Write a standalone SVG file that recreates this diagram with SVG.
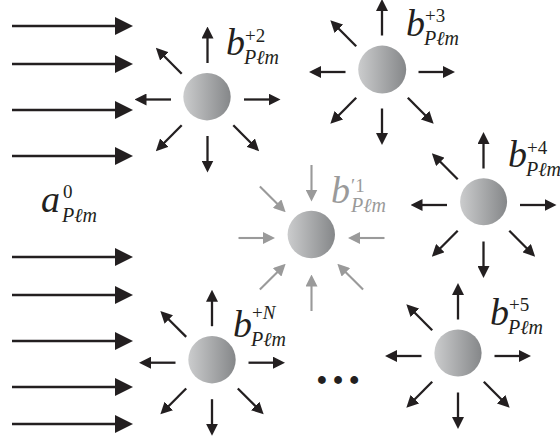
<svg xmlns="http://www.w3.org/2000/svg" xmlns:xlink="http://www.w3.org/1999/xlink" width="560" height="441" viewBox="0 0 560 441">
  <style>
    text { font-family: "Liberation Serif", "Times New Roman", "DejaVu Serif", serif; fill: #231f20; }
    .ghost { fill: #9a9a9a; }
    .big { font-size: 38px; font-style: italic; }
    .sup { font-size: 19px; font-style: normal; }
    .sub { font-size: 20px; font-style: italic; }
    .ray { stroke: #231f20; stroke-width: 2.3; fill: none; marker-end: url(#tip); }
    .ray-in { stroke: #9a9a9a; stroke-width: 2.1; fill: none; marker-end: url(#tip-in); }
    .wave { stroke: #231f20; stroke-width: 2.7; fill: none; marker-end: url(#tip-big); }
    .ball { fill: url(#shade); }
  </style>
  <defs>
    <linearGradient id="shade" x1="0" y1="0" x2="1" y2="0">
      <stop offset="0" stop-color="#cbcccd"/>
      <stop offset="1" stop-color="#858789"/>
    </linearGradient>
    <marker id="tip" markerUnits="userSpaceOnUse" markerWidth="12" markerHeight="12" refX="4" refY="6" orient="auto">
      <path d="M0,0 L12,6 L0,12 z" fill="#231f20"/>
    </marker>
    <marker id="tip-in" markerUnits="userSpaceOnUse" markerWidth="12" markerHeight="12" refX="4" refY="6" orient="auto">
      <path d="M0,0 L12,6 L0,12 z" fill="#9a9a9a"/>
    </marker>
    <marker id="tip-big" markerUnits="userSpaceOnUse" markerWidth="18" markerHeight="18" refX="4" refY="9" orient="auto">
      <path d="M0,0 L18,9 L0,18 z" fill="#231f20"/>
    </marker>
    <!-- seven outgoing rays around a scatterer (upper-right slot left free for its label) -->
    <g id="burst-out">
      <line class="ray" x1="0" y1="-36.5" x2="0" y2="-65"/>
      <line class="ray" x1="0" y1="36.5" x2="0" y2="65"/>
      <line class="ray" x1="-36.5" y1="0" x2="-65" y2="0"/>
      <line class="ray" x1="36.5" y1="0" x2="65" y2="0"/>
      <line class="ray" x1="-25.8" y1="-25.8" x2="-46" y2="-46"/>
      <line class="ray" x1="-25.8" y1="25.8" x2="-46" y2="46"/>
      <line class="ray" x1="25.8" y1="25.8" x2="46" y2="46"/>
    </g>
    <!-- seven incoming rays converging on a scatterer -->
    <g id="burst-in">
      <line class="ray-in" x1="0" y1="-73" x2="0" y2="-44.5"/>
      <line class="ray-in" x1="0" y1="73" x2="0" y2="44.5"/>
      <line class="ray-in" x1="-73" y1="0" x2="-44.5" y2="0"/>
      <line class="ray-in" x1="73" y1="0" x2="44.5" y2="0"/>
      <line class="ray-in" x1="-51.6" y1="-51.6" x2="-31.5" y2="-31.5"/>
      <line class="ray-in" x1="-51.6" y1="51.6" x2="-31.5" y2="31.5"/>
      <line class="ray-in" x1="51.6" y1="51.6" x2="31.5" y2="31.5"/>
    </g>
  </defs>

  <rect width="560" height="441" fill="#ffffff"/>

  <!-- incident plane wave and scattered rays -->
  <g id="connectors">
    <line class="wave" x1="12" y1="26" x2="119" y2="26"/>
    <line class="wave" x1="12" y1="64" x2="119" y2="64"/>
    <line class="wave" x1="12" y1="110" x2="119" y2="110"/>
    <line class="wave" x1="12" y1="156" x2="119" y2="156"/>
    <line class="wave" x1="12" y1="257" x2="119" y2="257"/>
    <line class="wave" x1="12" y1="295" x2="119" y2="295"/>
    <line class="wave" x1="12" y1="341" x2="119" y2="341"/>
    <line class="wave" x1="12" y1="387" x2="119" y2="387"/>
    <line class="wave" x1="12" y1="424" x2="119" y2="424"/>

    <use xlink:href="#burst-out" transform="translate(207.5,99.5)"/>
    <use xlink:href="#burst-out" transform="translate(382,72)"/>
    <use xlink:href="#burst-out" transform="translate(483.5,205)"/>
    <use xlink:href="#burst-out" transform="translate(212,362.7)"/>
    <use xlink:href="#burst-out" transform="translate(458,356)"/>
    <use xlink:href="#burst-in" transform="translate(311.5,238)"/>
  </g>

  <g id="incident">
    <text class="big" x="41" y="212">a</text>
    <text class="sup" x="63" y="198">0</text>
    <text class="sub" x="62" y="222">Pℓm</text>
  </g>

  <g id="scatterer-1">
    <circle class="ball" cx="311.3" cy="234.5" r="23.7"/>
    <text class="big ghost" x="331" y="203">b</text>
    <text class="sup ghost" x="351" y="192">′1</text>
    <text class="sub ghost" x="351" y="212">Pℓm</text>
  </g>

  <g id="scatterer-2">
    <circle class="ball" cx="207" cy="96.7" r="23.7"/>
    <text class="big" x="226" y="55">b</text>
    <text class="sup" x="245" y="42">+2</text>
    <text class="sub" x="244" y="64">Pℓm</text>
  </g>

  <g id="scatterer-3">
    <circle class="ball" cx="382.2" cy="69.6" r="24"/>
    <text class="big" x="406" y="36">b</text>
    <text class="sup" x="425" y="22">+3</text>
    <text class="sub" x="424" y="45">Pℓm</text>
  </g>

  <g id="scatterer-4">
    <circle class="ball" cx="483.6" cy="201.7" r="23.5"/>
    <text class="big" x="508" y="167">b</text>
    <text class="sup" x="527" y="154">+4</text>
    <text class="sub" x="526" y="176">Pℓm</text>
  </g>

  <g id="scatterer-5">
    <circle class="ball" cx="458" cy="353" r="23.6"/>
    <text class="big" x="490" y="325">b</text>
    <text class="sup" x="509" y="311">+5</text>
    <text class="sub" x="508" y="334">Pℓm</text>
  </g>

  <g id="scatterer-N">
    <circle class="ball" cx="212" cy="359.7" r="23.7"/>
    <text class="big" x="233" y="337">b</text>
    <text class="sup" x="252" y="319">+<tspan font-style="italic">N</tspan></text>
    <text class="sub" x="251" y="346">Pℓm</text>
  </g>

  <g id="ellipsis">
    <text x="314" y="384" font-weight="bold" font-size="48">…</text>
  </g>
</svg>
